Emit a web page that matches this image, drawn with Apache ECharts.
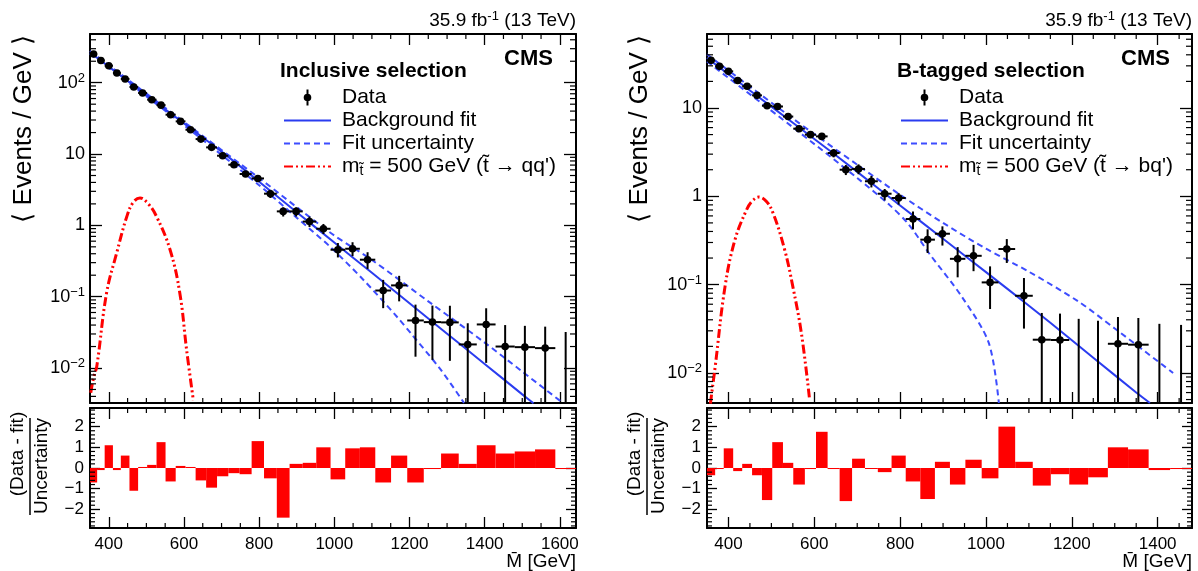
<!DOCTYPE html>
<html><head><meta charset="utf-8">
<script src="https://cdn.jsdelivr.net/npm/echarts@6/dist/echarts.min.js"></script>
<style>html,body{margin:0;padding:0;background:#fff}#c{width:1198px;height:571px}</style>
</head><body><div id="c"></div>
<script>
// ---------------- DATA ----------------
const binEdges = [350,369,389,411,432,455,478,502,527,551,578,604,631,659,688,718,748,780,813,847,881,916,952,990,1029,1068,1109,1151,1194,1238,1284,1331,1379,1429,1480,1534,1588,1643];

// Inclusive selection
const incData  = [253,205,173,137,113,87,71.7,57.8,48.5,35.6,28.7,21.9,16.2,12.4,9.47,7.08,5.25,4.55,2.78,1.57,1.57,1.13,0.896,0.455,0.47,0.33,0.122,0.144,0.0464,0.044,0.0436,0.0214,0.0408,0.0200,0.0196,0.0190,0];
const incErrUp = [4,3.5,3,2.6,2.2,2,1.8,1.6,1.4,1.2,1.0,0.85,0.7,0.6,0.5,0.45,0.38,0.36,0.37,0.22,0.22,0.2,0.15,0.11,0.11,0.09,0.05,0.052,0.031,0.031,0.031,0.021,0.028,0.02,0.0194,0.019,0.032];
const incErrDn = [4,3.5,3,2.6,2.2,2,1.8,1.6,1.4,1.2,1.0,0.85,0.7,0.6,0.5,0.45,0.38,0.36,0.36,0.24,0.24,0.18,0.14,0.1,0.1,0.085,0.053,0.058,0.032,0.031,0.031,0.0214,0.029,0.02,0.0196,0.019,0];
const incPull  = [-0.7,-0.1,1.1,-0.1,0.6,-1.1,0.05,0.15,1.25,-0.65,0.1,0.05,-0.6,-0.95,-0.4,-0.25,-0.3,1.3,-0.5,-2.4,0.2,0.25,1.0,-0.55,0.95,1.0,-0.7,0.6,-0.7,-0.05,0.7,0.2,1.1,0.7,0.8,0.9,-0.05];
const incFitX  = [350,400,500,600,700,800,900,1000,1100,1200,1300,1400,1500,1530];
const incFitY  = [266,168,67,26.9,10.8,4.1,1.53,0.575,0.216,0.081,0.0303,0.0114,0.00427,0.0032];
const incUpX   = [350,600,800,900,1000,1100,1250,1400,1500,1608];
const incUpY   = [279,28.2,4.6,1.8,0.72,0.327,0.086,0.0227,0.0089,0.00324];
const incLoX   = [350,600,800,900,988,1077,1166,1205,1281,1345];
const incLoY   = [254,25.4,3.65,1.28,0.506,0.173,0.0527,0.03,0.0098,0.00324];
const incSigX  = [352,360,368,394,421,448,465,483,505,527,563,589,607,625];
const incSigY  = [0.0045,0.0075,0.0105,0.112,0.41,1.33,2.1,2.42,2.0,1.33,0.455,0.112,0.018,0.0035];

// B-tagged selection
const btagData  = [34.6,29.6,26,20.5,17.6,13.9,10.6,10.4,8.0,5.83,4.99,4.77,3.09,2.0,2.04,1.48,1.07,0.957,0.553,0.323,0.377,0.196,0.212,0.106,0.253,0.0748,0.0238,0.0236,0,0,0.0214,0.0209,0,0];
const btagErrUp = [1.3,1.2,1.1,0.9,0.85,0.75,0.65,0.62,0.55,0.45,0.4,0.4,0.33,0.26,0.26,0.22,0.14,0.13,0.12,0.1,0.08,0.07,0.07,0.055,0.075,0.044,0.024,0.0234,0.041,0.039,0.0216,0.021,0.036,0.035];
const btagErrDn = [1.3,1.2,1.1,0.9,0.85,0.75,0.65,0.62,0.55,0.45,0.4,0.4,0.33,0.26,0.26,0.22,0.17,0.15,0.13,0.095,0.1,0.075,0.07,0.053,0.077,0.043,0.0238,0.0236,0,0,0.0214,0.0209,0,0];
const btagPull  = [-0.35,-0.05,0.95,-0.15,0.2,-0.35,-1.55,1.25,0.25,-0.8,-0.05,1.75,-0.05,-1.6,0.45,-0.02,-0.2,0.6,-0.65,-1.5,0.3,-0.8,0.4,-0.5,2.0,0.3,-0.85,-0.3,-0.8,-0.45,1.0,0.9,-0.1,-0.05];
const btagFitX  = [350,450,550,650,750,850,950,1050,1150,1250,1350,1382];
const btagFitY  = [36.8,15.8,6.8,2.92,1.22,0.51,0.214,0.0895,0.037,0.0149,0.006,0.00457];
const btagUpX   = [350,550,700,800,900,1000,1100,1215,1300,1436];
const btagUpY   = [40.4,7.6,2.28,1.04,0.5,0.255,0.14,0.0646,0.0319,0.01];
const btagLoX   = [350,550,700,775,820,867,944.5,1006.5,1030];
const btagLoY   = [33.6,6.05,1.61,0.80,0.48,0.228,0.072,0.0219,0.00457];
const btagSigX  = [358,361,369,392,415,442,455,471,488,504,531,550,570,589];
const btagSigY  = [0.0045,0.0059,0.0117,0.095,0.32,0.7,0.88,0.98,0.88,0.645,0.248,0.095,0.028,0.005];

// Axis ticks and labels
const xMajorInc  = [400,600,800,1000,1200,1400,1600];
const xMajorBtag = [400,600,800,1000,1200,1400];
const yTicksInc  = [0.01,0.1,1,10,100];
const yLabelsInc = ['10{s|\u22122}','10{s|\u22121}','1','10','10{s|2}'];
const yTicksBtag = [0.01,0.1,1,10];
const yLabelsBtag= ['10{s|\u22122}','10{s|\u22121}','1','10'];
const pullTicks  = [-2,-1,0,1,2];
const pullLabels = ['\u22122','\u22121','0','1','2'];

// ---------------- HELPERS ----------------
const FONT = "'Liberation Sans', Arial, Helvetica, sans-serif";
const zip = (xs, ys) => xs.map((x, i) => [x, ys[i]]);
function pointsItems(vals, up, dn) {
  return vals.map((v, i) => {
    const lo = binEdges[i], hi = binEdges[i + 1];
    return [(lo + hi) / 2, v, lo, hi, up[i], dn[i]];
  });
}
function pullItems(vals) { return vals.map((v, i) => [binEdges[i], binEdges[i + 1], v]); }
function minorItems(xMin, xMax, majors, yMin, yMax, logY, yRef) {
  const out = [];
  for (let x = Math.ceil(xMin / 50) * 50; x < xMax; x += 50) {
    if (x > xMin && majors.indexOf(x) < 0) out.push([x, yRef, 0, 5]);
  }
  if (logY) {
    for (let e = -4; e <= 3; e++) for (let k = 2; k <= 9; k++) {
      const v = k * Math.pow(10, e);
      if (v > yMin && v < yMax) out.push([xMin, v, 1, 6]);
    }
  } else {
    for (let v = -2.8; v < 2.9; v += 0.2) {
      const r = Math.round(v * 10) / 10;
      if (Math.abs(r - Math.round(r)) > 0.01) out.push([xMin, r, 1, 5]);
    }
  }
  return out;
}
function dataRender(params, api) {
  const cs = params.coordSys;
  const xc = api.value(0), y = api.value(1), lo = api.value(2), hi = api.value(3), eu = api.value(4), ed = api.value(5);
  const bottom = cs.y + cs.height;
  const ref = y > 0 ? y : 1;
  const px = api.coord([xc, ref])[0];
  const yTop = Math.max(api.coord([xc, y + eu])[1], cs.y);
  const lowV = y - ed;
  const yBot = lowV > 1e-9 ? Math.min(api.coord([xc, lowV])[1], bottom) : bottom;
  const st = { stroke: '#000', lineWidth: 2 };
  const ch = [{ type: 'line', shape: { x1: px, y1: yTop, x2: px, y2: yBot }, style: st }];
  if (y > 0) {
    const p = api.coord([xc, y]);
    ch.push({ type: 'line', shape: { x1: api.coord([lo, y])[0], y1: p[1], x2: api.coord([hi, y])[0], y2: p[1] }, style: st });
    ch.push({ type: 'circle', shape: { cx: p[0], cy: p[1], r: 3.8 }, style: { fill: '#000' } });
  }
  return { type: 'group', children: ch };
}
function pullRender(params, api) {
  const p1 = api.coord([api.value(0), api.value(2)]);
  const p2 = api.coord([api.value(1), 0]);
  const h = Math.max(Math.abs(p2[1] - p1[1]), 1);
  return { type: 'rect', shape: { x: p1[0], y: Math.min(p1[1], p2[1]), width: p2[0] - p1[0], height: h }, style: { fill: '#ff0000' } };
}
function minorRender(params, api) {
  const cs = params.coordSys;
  const kind = api.value(2), L = api.value(3);
  const p = api.coord([api.value(0), api.value(1)]);
  let a, b;
  if (kind === 0) {
    a = { x1: p[0], y1: cs.y + cs.height, x2: p[0], y2: cs.y + cs.height - L };
    b = { x1: p[0], y1: cs.y, x2: p[0], y2: cs.y + L };
  } else {
    a = { x1: cs.x, y1: p[1], x2: cs.x + L, y2: p[1] };
    b = { x1: cs.x + cs.width, y1: p[1], x2: cs.x + cs.width - L, y2: p[1] };
  }
  const st = { stroke: '#000', lineWidth: 1.2 };
  return { type: 'group', children: [{ type: 'line', shape: a, style: st }, { type: 'line', shape: b, style: st }] };
}

// ---------------- PANELS ----------------
const panels = [
  { left: 90, width: 486, xMax: 1643, yMin: 0.00323, yMax: 482, xMajor: xMajorInc, yTicks: yTicksInc, yLabels: yLabelsInc,
    data: incData, up: incErrUp, dn: incErrDn, pull: incPull,
    fit: zip(incFitX, incFitY), fup: zip(incUpX, incUpY), flo: zip(incLoX, incLoY), sig: zip(incSigX, incSigY), sigName: 'sigInc' },
  { left: 707, width: 485, xMax: 1480, yMin: 0.00457, yMax: 68.8, xMajor: xMajorBtag, yTicks: yTicksBtag, yLabels: yLabelsBtag,
    data: btagData, up: btagErrUp, dn: btagErrDn, pull: btagPull,
    fit: zip(btagFitX, btagFitY), fup: zip(btagUpX, btagUpY), flo: zip(btagLoX, btagLoY), sig: zip(btagSigX, btagSigY), sigName: 'sigBtag' }
];
const X_MIN = 350;
const grid = [], xAxis = [], yAxis = [], series = [];
const axLine = { show: true, onZero: false, lineStyle: { color: '#000', width: 2 } };
const tickSt = { color: '#000', width: 1.3 };

panels.forEach((P, pi) => {
  const gTop = pi * 2, gRat = pi * 2 + 1;
  grid.push({ left: P.left, top: 34, width: P.width, height: 369, containLabel: false, outerBoundsMode: 'none' });
  grid.push({ left: P.left, top: 408, width: P.width, height: 120, containLabel: false, outerBoundsMode: 'none' });
  [gTop, gRat].forEach(g => {
    const isRat = g === gRat;
    ['bottom', 'top'].forEach(pos => {
      xAxis.push({ gridIndex: g, type: 'value', min: X_MIN, max: P.xMax, position: pos,
        axisLine: axLine, splitLine: { show: false },
        axisTick: { show: true, inside: true, length: 11, customValues: P.xMajor, lineStyle: tickSt },
        axisLabel: { show: isRat && pos === 'bottom', customValues: P.xMajor, fontSize: 17, fontFamily: FONT, color: '#000', margin: 8,
          formatter: v => String(Math.round(v)) } });
    });
    ['left', 'right'].forEach(pos => {
      if (!isRat) {
        yAxis.push({ gridIndex: g, type: 'log', logBase: 10, min: P.yMin, max: P.yMax, position: pos,
          axisLine: axLine, splitLine: { show: false },
          axisTick: { show: true, inside: true, length: 12, customValues: P.yTicks, lineStyle: tickSt },
          axisLabel: { show: pos === 'left', customValues: P.yTicks, fontSize: 18, fontFamily: FONT, color: '#000', margin: 5,
            formatter: v => { const i = P.yTicks.findIndex(t => Math.abs(Math.log10(t) - Math.log10(v)) < 1e-6); return i >= 0 ? P.yLabels[i] : ''; },
            rich: { s: { fontSize: 13, fontFamily: FONT, padding: [0, 0, 9, 0] } } } });
      } else {
        yAxis.push({ gridIndex: g, type: 'value', min: -2.9, max: 2.9, position: pos,
          axisLine: axLine, splitLine: { show: false },
          axisTick: { show: true, inside: true, length: 10, customValues: pullTicks, lineStyle: tickSt },
          axisLabel: { show: pos === 'left', customValues: pullTicks, fontSize: 17, fontFamily: FONT, color: '#000', margin: 6,
            formatter: v => { const i = pullTicks.findIndex(t => Math.abs(t - v) < 1e-6); return i >= 0 ? pullLabels[i] : ''; } } });
      }
    });
  });
  const xTopB = gTop * 2, xRatB = gRat * 2, yTopL = gTop * 2, yRatL = gRat * 2;
  series.push({ type: 'line', name: P.sigName, xAxisIndex: xTopB, yAxisIndex: yTopL, data: P.sig, smooth: 0.4, symbol: 'none', showSymbol: false,
    lineStyle: { color: '#ff0000', width: 3, type: [9, 3, 2, 3, 2, 3] }, itemStyle: { color: '#ff0000' }, z: 2, silent: true });
  series.push({ type: 'line', name: 'Fit uncertainty', xAxisIndex: xTopB, yAxisIndex: yTopL, data: P.fup, smooth: 0.3, symbol: 'none', showSymbol: false,
    lineStyle: { color: '#3d4dff', width: 2, type: [6, 4] }, itemStyle: { color: '#3d4dff' }, z: 3, silent: true });
  series.push({ type: 'line', name: 'Fit uncertainty', xAxisIndex: xTopB, yAxisIndex: yTopL, data: P.flo, smooth: 0.3, symbol: 'none', showSymbol: false,
    lineStyle: { color: '#3d4dff', width: 2, type: [6, 4] }, itemStyle: { color: '#3d4dff' }, z: 3, silent: true });
  series.push({ type: 'line', name: 'Background fit', xAxisIndex: xTopB, yAxisIndex: yTopL, data: P.fit, smooth: 0.3, symbol: 'none', showSymbol: false,
    lineStyle: { color: '#2a3cf0', width: 2 }, itemStyle: { color: '#2a3cf0' }, z: 3, silent: true });
  series.push({ type: 'custom', name: 'Data', xAxisIndex: xTopB, yAxisIndex: yTopL, data: pointsItems(P.data, P.up, P.dn),
    encode: { x: 0, y: 1 }, renderItem: dataRender, itemStyle: { color: '#000' }, z: 5, silent: true });
  series.push({ type: 'custom', name: 'ticksTop' + pi, xAxisIndex: xTopB, yAxisIndex: yTopL,
    data: minorItems(X_MIN, P.xMax, P.xMajor, P.yMin, P.yMax, true, 1), encode: { x: 0, y: 1 }, renderItem: minorRender, z: 6, silent: true });
  series.push({ type: 'custom', name: 'pull' + pi, xAxisIndex: xRatB, yAxisIndex: yRatL, data: pullItems(P.pull),
    encode: { x: [0, 1], y: 2 }, renderItem: pullRender, z: 2, silent: true });
  series.push({ type: 'custom', name: 'ticksRat' + pi, xAxisIndex: xRatB, yAxisIndex: yRatL,
    data: minorItems(X_MIN, P.xMax, P.xMajor, -2.9, 2.9, false, 0), encode: { x: 0, y: 1 }, renderItem: minorRender, z: 6, silent: true });
});

const dataIcon = 'path://M-23.5,-8 M23.5,8 M-1,-8 L1,-8 L1,8 L-1,8 Z M-3.8,0 A3.8,3.8 0 1,1 3.8,0 A3.8,3.8 0 1,1 -3.8,0 Z';
const legendText = {
  sigInc: 'm{sub|t\u0303} = 500 GeV (t\u0303 \u2192 qq\')',
  sigBtag: 'm{sub|t\u0303} = 500 GeV (t\u0303 \u2192 bq\')'
};
const hideSym = { opacity: 0, borderWidth: 0 };
function mkLegend(left, sigName) {
  return { left: left, top: 86, orient: 'vertical', itemWidth: 47, itemHeight: 16, itemGap: 0, padding: 0, selectedMode: false,
    data: [{ name: 'Data', icon: dataIcon },
           { name: 'Background fit', itemStyle: hideSym },
           { name: 'Fit uncertainty', itemStyle: hideSym },
           { name: sigName, itemStyle: hideSym }],
    formatter: n => legendText[n] || n,
    textStyle: { fontSize: 21, fontFamily: FONT, color: '#000', lineHeight: 23, padding: [0, 0, 0, 6],
      rich: { sub: { fontSize: 14, fontFamily: FONT, lineHeight: 14, padding: [9, 0, 0, 0] } } } };
}
function mkTitle(text, pos, top, size, bold, extra) {
  return Object.assign({ text: text, top: top, padding: 0, textStyle: { fontSize: size, fontWeight: bold ? 'bold' : 'normal', fontFamily: FONT, color: '#000',
    rich: { s: { fontSize: 13, fontFamily: FONT, padding: [0, 0, 9, 0] } } } }, pos, extra || {});
}

const option = {
  animation: false,
  backgroundColor: '#fff',
  grid: grid, xAxis: xAxis, yAxis: yAxis, series: series,
  legend: [mkLegend(283, 'sigInc'), mkLegend(900, 'sigBtag')],
  title: [
    mkTitle('35.9 fb{s|-1} (13 TeV)', { right: 1198 - 576 }, 10, 19, false),
    mkTitle('CMS', { right: 1198 - 553 }, 48, 22, true),
    mkTitle('Inclusive selection', { left: 280 }, 61, 21, true),
    mkTitle('35.9 fb{s|-1} (13 TeV)', { right: 1198 - 1192 }, 10, 19, false),
    mkTitle('CMS', { right: 1198 - 1170 }, 48, 22, true),
    mkTitle('B-tagged selection', { left: 897 }, 61, 21, true)
  ],
  graphic: [
    { type: 'text', x: 24, y: 35, rotation: Math.PI / 2, style: { text: '\u27E8 Events / GeV \u27E9', fontSize: 26, fontFamily: FONT, fill: '#000', align: 'right', verticalAlign: 'middle' } },
    { type: 'text', x: 640, y: 35, rotation: Math.PI / 2, style: { text: '\u27E8 Events / GeV \u27E9', fontSize: 26, fontFamily: FONT, fill: '#000', align: 'right', verticalAlign: 'middle' } },
    { type: 'text', x: 18, y: 454, rotation: Math.PI / 2, style: { text: '(Data - fit)', fontSize: 19, fontFamily: FONT, fill: '#000', align: 'center', verticalAlign: 'middle' } },
    { type: 'line', shape: { x1: 30, y1: 418, x2: 30, y2: 515 }, style: { stroke: '#000', lineWidth: 1.5 } },
    { type: 'text', x: 42, y: 466, rotation: Math.PI / 2, style: { text: 'Uncertainty', fontSize: 19, fontFamily: FONT, fill: '#000', align: 'center', verticalAlign: 'middle' } },
    { type: 'text', x: 635, y: 454, rotation: Math.PI / 2, style: { text: '(Data - fit)', fontSize: 19, fontFamily: FONT, fill: '#000', align: 'center', verticalAlign: 'middle' } },
    { type: 'line', shape: { x1: 647, y1: 418, x2: 647, y2: 515 }, style: { stroke: '#000', lineWidth: 1.5 } },
    { type: 'text', x: 659, y: 466, rotation: Math.PI / 2, style: { text: 'Uncertainty', fontSize: 19, fontFamily: FONT, fill: '#000', align: 'center', verticalAlign: 'middle' } },
    { type: 'text', x: 576, y: 562, style: { text: 'M\u0304 [GeV]', fontSize: 19, fontFamily: FONT, fill: '#000', align: 'right', verticalAlign: 'middle' } },
    { type: 'text', x: 1192, y: 562, style: { text: 'M\u0304 [GeV]', fontSize: 19, fontFamily: FONT, fill: '#000', align: 'right', verticalAlign: 'middle' } }
  ]
};
const chart = echarts.init(document.getElementById('c'), null, { renderer: 'canvas' });
chart.setOption(option);
</script>
</body></html>
